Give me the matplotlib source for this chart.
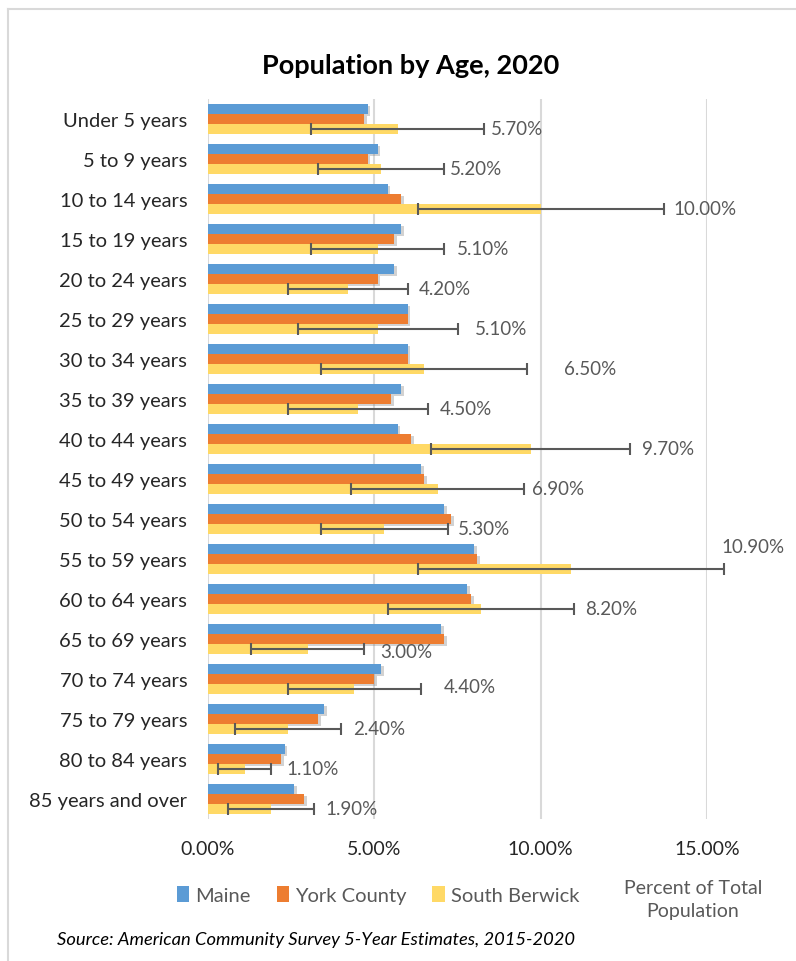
import matplotlib
matplotlib.use("Agg")
import matplotlib.pyplot as plt
import matplotlib.patheffects as pe
from matplotlib.lines import Line2D
from matplotlib.patches import Patch
import numpy as np

plt.rcParams['font.family'] = ['Lato', 'DejaVu Sans']

categories = ["Under 5 years", "5 to 9 years", "10 to 14 years", "15 to 19 years",
              "20 to 24 years", "25 to 29 years", "30 to 34 years", "35 to 39 years",
              "40 to 44 years", "45 to 49 years", "50 to 54 years", "55 to 59 years",
              "60 to 64 years", "65 to 69 years", "70 to 74 years", "75 to 79 years",
              "80 to 84 years", "85 years and over"]
maine = [4.8, 5.1, 5.4, 5.8, 5.6, 6.0, 6.0, 5.8, 5.7, 6.4, 7.1, 8.0, 7.8, 7.0, 5.2, 3.5, 2.3, 2.6]
york = [4.7, 4.8, 5.8, 5.6, 5.1, 6.0, 6.0, 5.5, 6.1, 6.5, 7.3, 8.1, 7.9, 7.1, 5.0, 3.3, 2.2, 2.9]
south_berwick = [5.7, 5.2, 10.0, 5.1, 4.2, 5.1, 6.5, 4.5, 9.7, 6.9, 5.3, 10.9, 8.2, 3.0, 4.4, 2.4, 1.1, 1.9]
sb_moe = [2.6, 1.9, 3.7, 2.0, 1.8, 2.4, 3.1, 2.1, 3.0, 2.6, 1.9, 4.6, 2.8, 1.7, 2.0, 1.6, 0.8, 1.3]
x_ticks = [0, 5, 10, 15]
x_ticklabels = ["0.00%", "5.00%", "10.00%", "15.00%"]
series_names = ["Maine", "York County", "South Berwick"]
colors = ["#5B9BD5", "#ED7D31", "#FFD966"]

# label offsets (pixels) relative to end of error bar
label_off = [(7, 0), (6, 0), (10, 0), (13, 0), (11, 0), (17, 0), (37, 0), (12, 0),
             (12, 0), (8, 0), (10, 0), (29, 22), (11, 0), (16, -3), (23, 2), (12, 0),
             (15, 0), (11, 0)]

fig = plt.figure(figsize=(7.96, 9.62), dpi=100)
ax = fig.add_axes([208/796, 1-820/962, (707-208)/796, 720/962])

n = len(categories)
y = np.arange(n)
h = 0.25
shadow = [pe.SimplePatchShadow(offset=(2, -1.5), shadow_rgbFace='#7F7F7F', alpha=0.35), pe.Normal()]
b1 = ax.barh(y - h, maine, height=h, color=colors[0], zorder=3)
b2 = ax.barh(y, york, height=h, color=colors[1], zorder=3)
b3 = ax.barh(y + h, south_berwick, height=h, color=colors[2], zorder=3)
for b in list(b1) + list(b2):
    b.set_path_effects(shadow)
eb = ax.errorbar(south_berwick, y + h, xerr=sb_moe, fmt='none', ecolor='#595959',
                 elinewidth=1.5, capsize=4, capthick=1.5, zorder=4)
for art in eb.lines[1]:
    art.set_clip_on(False)
for art in eb.lines[2]:
    art.set_clip_on(False)

for i in range(n):
    dx, dy = label_off[i]
    xe = south_berwick[i] + sb_moe[i]
    ha = 'center' if dy > 10 else 'left'
    ax.annotate(f"{south_berwick[i]:.2f}%", xy=(xe, y[i] + h), xytext=(dx, dy),
                textcoords='offset pixels', ha=ha, va='center', fontsize=13.5,
                color='#595959', zorder=5, annotation_clip=False)

ax.set_xlim(0, 15)
ax.set_ylim(n - 0.5, -0.5)
ax.set_xticks(x_ticks)
ax.set_xticklabels(x_ticklabels, fontsize=14, color='#262626')
ax.set_yticks(y)
ax.set_yticklabels(categories, fontsize=14.5, color='#262626')
ax.tick_params(axis='both', length=0)
ax.tick_params(axis='x', pad=15)
ax.tick_params(axis='y', pad=15)
ax.grid(axis='x', color='#D9D9D9', linewidth=1.5, zorder=0)
for s in ax.spines.values():
    s.set_visible(False)

fig.text(411/796, 1-66/962, "Population by Age, 2020", ha='center', va='center',
         fontsize=19.5, fontweight='bold', color='black')

handles = [Patch(facecolor=c) for c in colors]
fig.legend(handles, series_names, loc='center', bbox_to_anchor=(378/796, 1-896/962),
           ncol=3, frameon=False, fontsize=14.5, handlelength=0.6, handleheight=0.8,
           handletextpad=0.3, columnspacing=1.3, labelcolor='#595959')

fig.text(693/796, 1-900/962, "Percent of Total\nPopulation", ha='center', va='center',
         fontsize=14, color='#595959', linespacing=1.5)

fig.text(57/796, 1-940/962, "Source: American Community Survey 5-Year Estimates, 2015-2020",
         ha='left', va='center', fontsize=13.2, style='italic', color='black')

fig.add_artist(Line2D([8/796, 8/796], [0, 1-10/962], color='#D9D9D9', lw=1.5,
                      transform=fig.transFigure))
fig.add_artist(Line2D([8/796, 1], [1-10/962, 1-10/962], color='#D9D9D9', lw=1.5,
                      transform=fig.transFigure))

fig.savefig("out.png", dpi=100)
